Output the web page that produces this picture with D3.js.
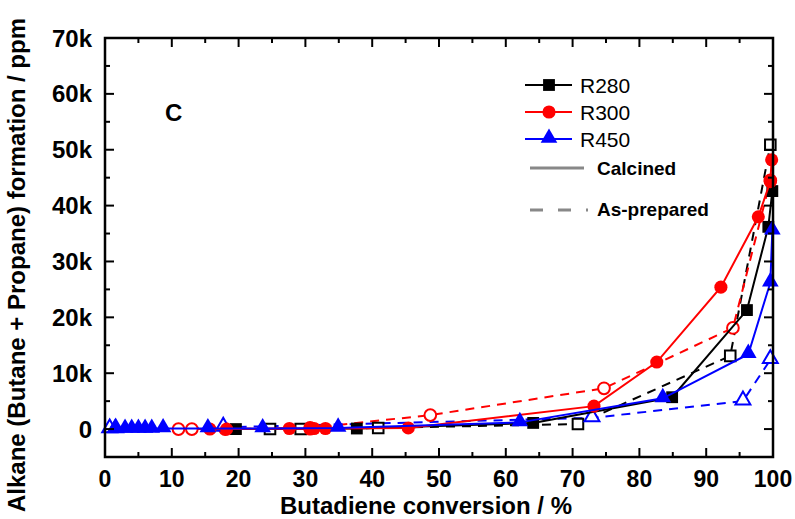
<!DOCTYPE html>
<html><head><meta charset="utf-8">
<script src="https://cdn.jsdelivr.net/npm/d3@7"></script>
<style>body{margin:0;background:#fff}svg{display:block}text{font-family:"Liberation Sans",Arial,sans-serif}</style>
</head><body>
<script>
// ---- data ----
const seriesNames = ["R280", "R300", "R450"];
const seriesColors = ["#000000", "#ff0000", "#0000ff"];
const seriesSymbols = ["square", "circle", "triangle"];
// calcined (filled, solid lines)
const r280CalcX = [19.6, 37.7, 64.1, 84.9, 96.1, 99.3, 99.9];
const r280CalcY = [0, 100, 1100, 5700, 21300, 36200, 42600];
const r300CalcX = [15.7, 18.2, 27.6, 30.7, 31.3, 33.0, 45.4, 73.2, 82.6, 92.2, 97.8, 99.6, 99.8];
const r300CalcY = [0, 0, 100, 0, 100, 100, 200, 4100, 12000, 25400, 38000, 44300, 48200];
const r450CalcX = [1.5, 3.0, 4.0, 5.0, 6.0, 7.0, 8.7, 15.4, 23.6, 34.9, 62.1, 83.5, 96.3, 99.6, 99.9];
const r450CalcY = [0, 0, 0, 0, 0, 0, 100, 100, 100, 200, 1200, 5500, 13400, 26200, 35500];
// as-prepared (open, dashed lines)
const r280PrepX = [24.7, 29.3, 40.9, 70.8, 93.6, 99.6];
const r280PrepY = [0, 0, 200, 900, 13100, 50900];
const r300PrepX = [11.0, 13.0, 18.0, 30.7, 48.7, 74.7, 94.0, 99.6];
const r300PrepY = [0, 0, 0, 200, 2500, 7300, 18100, 44500];
const r450PrepX = [0.7, 1.6, 17.7, 72.9, 95.5, 99.6];
const r450PrepY = [0, 0, 300, 2000, 5000, 12400];
const xTicks = [0, 10, 20, 30, 40, 50, 60, 70, 80, 90, 100];
const yTicks = [0, 10000, 20000, 30000, 40000, 50000, 60000, 70000];
const yTickLabels = ["0", "10k", "20k", "30k", "40k", "50k", "60k", "70k"];
const xTitle = "Butadiene conversion / %";
const yTitle = "Alkane (Butane + Propane) formation / ppm";
const panelLabel = "C";
const legendStyles = ["Calcined", "As-prepared"];

const W = 795, H = 519;
const svg = d3.select("body").append("svg").attr("width", W).attr("height", H);
const x = d3.scaleLinear().domain([0, 100]).range([105, 773]);
const y = d3.scaleLinear().domain([-5000, 70000]).range([457, 38]);

const pack = (xs, ys) => xs.map((v, i) => [v, ys[i]]);
const calc = [pack(r280CalcX, r280CalcY), pack(r300CalcX, r300CalcY), pack(r450CalcX, r450CalcY)];
const prep = [pack(r280PrepX, r280PrepY), pack(r300PrepX, r300PrepY), pack(r450PrepX, r450PrepY)];

const symType = {square: d3.symbolSquare, circle: d3.symbolCircle, triangle: d3.symbolTriangle};
const symSize = {square: 140, circle: 135, triangle: 120};
function drawMarker(g, cx, cy, i, filled, scale=1) {
  const s = seriesSymbols[i];
  g.append("path")
    .attr("d", d3.symbol().type(symType[s]).size(symSize[s]*scale)())
    .attr("transform", `translate(${cx},${cy + (s==="triangle"? -1:0)})`)
    .attr("fill", filled ? seriesColors[i] : "#fff")
    .attr("stroke", seriesColors[i])
    .attr("stroke-width", filled ? 0 : 2);
}
const line = d3.line().x(d => x(d[0])).y(d => y(d[1]));
const plot = svg.append("g");
// as-prepared
prep.forEach((data, i) => {
  plot.append("path").attr("d", line(data)).attr("fill", "none")
    .attr("stroke", seriesColors[i]).attr("stroke-width", 2).attr("stroke-dasharray", "9,7");
});
prep.forEach((data, i) => data.forEach(d => drawMarker(plot, x(d[0]), y(d[1]), i, false, 0.8)));
// calcined
calc.forEach((data, i) => {
  plot.append("path").attr("d", line(data)).attr("fill", "none")
    .attr("stroke", seriesColors[i]).attr("stroke-width", 2);
  data.forEach(d => drawMarker(plot, x(d[0]), y(d[1]), i, true));
});

// frame
svg.append("rect").attr("x", 105).attr("y", 38).attr("width", 668).attr("height", 419)
  .attr("fill", "none").attr("stroke", "#000").attr("stroke-width", 2.5);

const maj = 9, mnr = 5;
const ax = svg.append("g").attr("stroke", "#000").attr("stroke-width", 2);
d3.range(0, 101, 5).forEach(v => {
  const L = v % 10 === 0 ? maj : mnr;
  ax.append("line").attr("x1", x(v)).attr("x2", x(v)).attr("y1", 457).attr("y2", 457 - L);
  ax.append("line").attr("x1", x(v)).attr("x2", x(v)).attr("y1", 38).attr("y2", 38 + L);
});
d3.range(-5000, 70001, 5000).forEach(v => {
  const L = v % 10000 === 0 ? maj : mnr;
  ax.append("line").attr("x1", 105).attr("x2", 105 + L).attr("y1", y(v)).attr("y2", y(v));
  ax.append("line").attr("x1", 773).attr("x2", 773 - L).attr("y1", y(v)).attr("y2", y(v));
});
xTicks.forEach(v => svg.append("text").attr("x", x(v)).attr("y", 486.5).attr("text-anchor", "middle")
  .attr("font-size", 23).attr("font-weight", "bold").text(v));
yTicks.forEach((v, i) => svg.append("text").attr("x", 92).attr("y", y(v) + 8.5).attr("text-anchor", "end")
  .attr("font-size", 24).attr("font-weight", "bold").text(yTickLabels[i]));
svg.append("text").attr("x", 426).attr("y", 513.5).attr("text-anchor", "middle")
  .attr("font-size", 24).attr("font-weight", "bold").text(xTitle);
svg.append("text").attr("transform", "translate(25,265) rotate(-90)").attr("text-anchor", "middle")
  .attr("font-size", 24).attr("font-weight", "bold").text(yTitle);
svg.append("text").attr("x", 165).attr("y", 121).attr("font-size", 24).attr("font-weight", "bold").text(panelLabel);

// legend
const lg = svg.append("g");
[85, 112, 139].forEach((ly, i) => {
  lg.append("line").attr("x1", 525).attr("x2", 572).attr("y1", ly).attr("y2", ly)
    .attr("stroke", seriesColors[i]).attr("stroke-width", 2);
  drawMarker(lg, 549, ly, i, true);
  lg.append("text").attr("x", 580).attr("y", ly + 8).attr("font-size", 21).text(seriesNames[i]);
});
lg.append("line").attr("x1", 530).attr("x2", 584).attr("y1", 168).attr("y2", 168)
  .attr("stroke", "#888").attr("stroke-width", 3);
lg.append("text").attr("x", 597).attr("y", 175).attr("font-size", 19).attr("font-weight", "bold").text(legendStyles[0]);
lg.append("line").attr("x1", 530).attr("x2", 588).attr("y1", 210).attr("y2", 210)
  .attr("stroke", "#888").attr("stroke-width", 3).attr("stroke-dasharray", "13,15");
lg.append("text").attr("x", 597).attr("y", 216).attr("font-size", 19).attr("font-weight", "bold").text(legendStyles[1]);
</script>
</body></html>
